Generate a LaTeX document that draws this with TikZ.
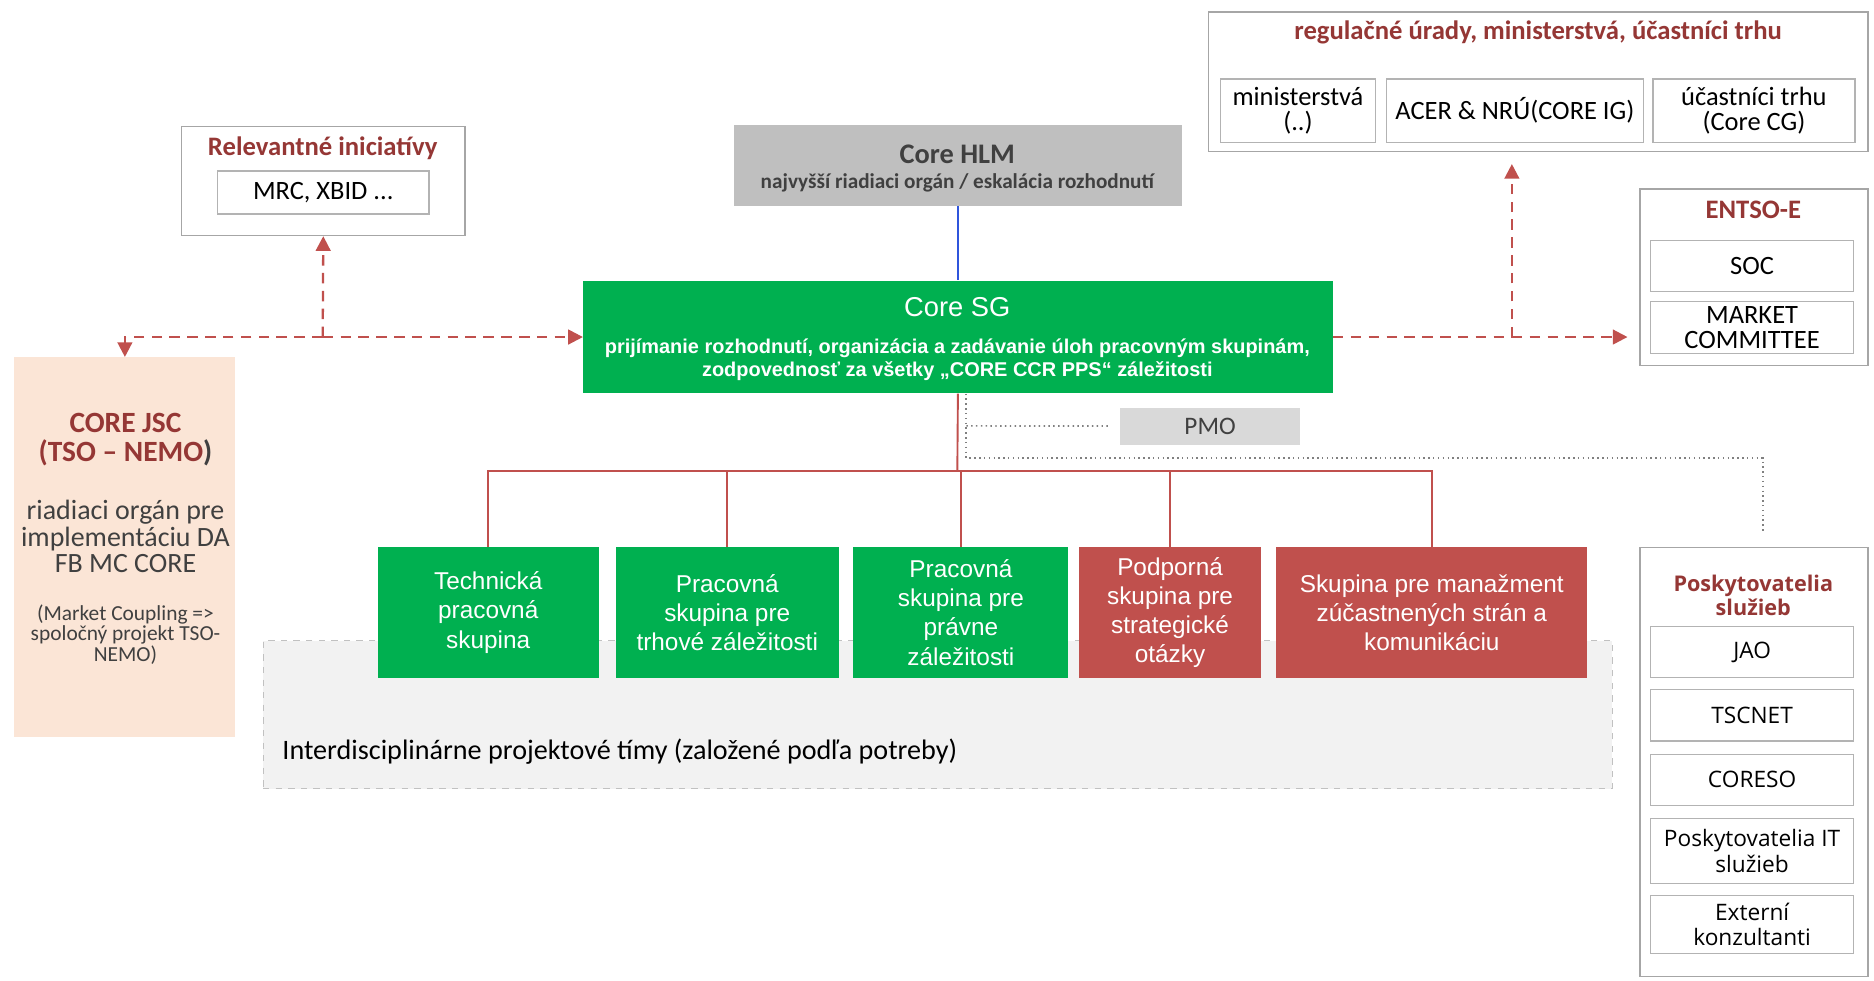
\documentclass[tikz,border=0pt]{standalone}
\usepackage{fontspec}
\setmainfont{Carlito}
\newfontfamily\arialf{Liberation Sans}
\newfontfamily\osans{Open Sans}
\usetikzlibrary{arrows.meta,calc}
\definecolor{titred}{RGB}{149,55,53}
\definecolor{arrred}{RGB}{192,80,77}
\definecolor{grn}{RGB}{0,176,80}
\definecolor{boxred}{RGB}{192,80,77}
\definecolor{jscfill}{RGB}{251,229,214}
\definecolor{hlmfill}{RGB}{191,191,191}
\definecolor{pmofill}{RGB}{217,217,217}
\definecolor{idfill}{RGB}{242,242,242}
\definecolor{bordgray}{RGB}{166,166,166}
\definecolor{txtgray}{RGB}{64,64,64}
\definecolor{blueline}{RGB}{47,85,220}
\newcommand\fs[2]{\fontsize{#1}{#2}\selectfont}
\newcommand\mybox[7]{\node[#2, minimum width={(#5-#3)*0.56905pt}, minimum height={(#6-#4)*0.56905pt}, inner sep=0pt] (#1) at ({(#3+#5)/2},{(#4+#6)/2}) {#7};}
\tikzset{
  outer/.style={draw=bordgray, line width=0.7pt, fill=white},
  inner/.style={draw=bordgray!85, line width=0.6pt, fill=white, align=center, font=\fs{12.6}{12}},
  pinner/.style={inner, font=\osans\fs{10.8}{12}},
  title/.style={text=titred, font=\bfseries\fs{12.7}{12}, align=center},
  wg/.style={text=white, align=center, font=\arialf\fs{11.6}{13.9}},
  dashln/.style={arrred, line width=1.1pt, dash pattern=on 5pt off 3.5pt},
  dasharr/.style={dashln, -{Triangle[length=7pt,width=7pt]}},
  tree/.style={arrred, line width=0.9pt},
  dots/.style={gray, line width=0.8pt, dash pattern=on 0.7pt off 1.6pt},
}
\begin{document}
\begin{tikzpicture}[x=0.02cm, y=-0.02cm]
\useasboundingbox (0,0) rectangle (1568,820);

% interdisciplinary teams
\mybox{idbox}{draw=bordgray!70, dashed, line width=0.5pt, fill=idfill}{220}{536}{1349}{660}{}
\node[anchor=west, inner sep=0pt, font=\fs{13.4}{15}] (idtxt) at (236,629) {Interdisciplinárne projektové tímy (založené podľa potreby)};

% Relevantne iniciativy
\mybox{rel}{outer}{152}{106}{389}{197}{}
\node[title] (reltitle) at (270,124) {Relevantné iniciatívy};
\mybox{mrc}{inner}{182}{143}{359}{179}{MRC, XBID ...}

% Core HLM
\mybox{hlm}{fill=hlmfill}{614}{105}{989}{172}{}
\node[font=\bfseries\fs{13.5}{15}, text=txtgray] (hlmtitle) at (801,129) {Core HLM};
\node[font=\bfseries\fs{10.1}{11}, text=txtgray] (hlmsub) at (801,153) {najvyšší riadiaci orgán / eskalácia rozhodnutí};

% Core SG
\mybox{sg}{fill=grn}{488}{235}{1115}{329}{}
\node[text=white, font=\arialf\fs{13}{15}] (sgtitle) at (801,257) {Core SG};
\node[text=white, font=\arialf\bfseries\fs{9.5}{11.4}, align=center] (sgtext) at (801,301) {prijímanie rozhodnutí, organizácia a zadávanie úloh pracovným skupinám,\\zodpovednosť za všetky „CORE CCR PPS“ záležitosti};

% regulacne urady
\mybox{reg}{outer}{1011}{10}{1563}{127}{}
\node[title] (regtitle) at (1287,27) {regulačné úrady, ministerstvá, účastníci trhu};
\mybox{mini}{inner}{1021}{66}{1151}{119}{ministerstvá\\(..)}
\mybox{acer}{inner}{1160}{66}{1375}{119}{ACER \& NRÚ(CORE IG)}
\mybox{ucast}{inner}{1383}{66}{1552}{119}{účastníci trhu\\(Core CG)}

% ENTSO-E
\mybox{entso}{outer}{1372}{158}{1563}{306}{}
\node[title] (entsotitle) at (1467,176) {ENTSO-E};
\mybox{soc}{inner}{1381}{201}{1551}{244}{SOC}
\mybox{mc}{inner}{1381}{252}{1551}{296}{MARKET\\COMMITTEE}

% CORE JSC
\mybox{jsc}{fill=jscfill}{12}{299}{197}{617}{}
\node[title, font=\bfseries\fs{14}{13.7}] (jsctitle) at (105,368) {CORE JSC\\(TSO – NEMO{\color{txtgray})}};
\node[text=txtgray, align=center, font=\fs{13.3}{12.6}] (jscbody) at (105,449) {riadiaci orgán pre\\implementáciu DA\\FB MC CORE};
\node[text=txtgray, align=center, font=\fs{10.2}{9.7}] (jscsmall) at (105,531) {(Market Coupling =>\\spoločný projekt TSO-\\NEMO)};

% PMO
\mybox{pmo}{fill=pmofill, text=txtgray, font=\fs{12}{13}}{937}{341}{1088}{372}{PMO}

% working groups
\mybox{wg1}{fill=grn, wg}{316}{458}{501}{567}{Technická\\pracovná\\skupina}
\mybox{wg2}{fill=grn, wg}{515}{458}{702}{567}{Pracovná\\skupina pre\\trhové záležitosti}
\mybox{wg3}{fill=grn, wg}{714}{458}{894}{567}{Pracovná\\skupina pre\\právne\\záležitosti}
\mybox{wg4}{fill=boxred, wg}{903}{458}{1055}{567}{Podporná\\skupina pre\\strategické\\otázky}
\mybox{wg5}{fill=boxred, wg}{1068}{458}{1328}{567}{Skupina pre manažment\\zúčastnených strán a\\komunikáciu}

% Poskytovatelia
\mybox{posk}{outer}{1372}{458}{1563}{817}{}
\node[title, font=\osans\bfseries\fs{10.3}{11.5}] (posktitle) at (1467,498) {Poskytovatelia\\služieb};
\mybox{jao}{pinner}{1381}{524}{1551}{567}{JAO}
\mybox{tscnet}{pinner}{1381}{577}{1551}{620}{TSCNET}
\mybox{coreso}{pinner}{1381}{631}{1551}{674}{CORESO}
\mybox{itsl}{pinner}{1381}{685}{1551}{739}{Poskytovatelia IT\\služieb}
\mybox{ext}{pinner}{1381}{749}{1551}{798}{Externí\\konzultanti}

% connectors
\draw[blueline, line width=0.8pt] (hlm.south) -- (sg.north);

\coordinate (tj) at (801,394);
\draw[tree] (sg.south) -- (tj);
\foreach \w in {wg1,wg2,wg3,wg4,wg5} \draw[tree] (tj) -| (\w.north);

\coordinate (jl) at (270,282);
\draw[dasharr] (jl) -- (sg.west);
\draw[dasharr] (jl) -- (rel.south);
\draw[dasharr] (jl) -| (jsc.north);

\coordinate (jr) at (1265,282);
\draw[dashln] (sg.east) -- (jr);
\draw[dasharr, shorten >=5.5pt] (jr) -- (jr -| entso.west);
\draw[dasharr, shorten >=5.5pt] (jr) -- (jr |- reg.south);

\coordinate (d0) at ($(sg.south)+(7,0)$);
\coordinate (d1) at ($(sg.south)+(7,54)$);
\coordinate (dp) at ($(sg.south)+(7,27)$);
\coordinate (d2) at ($(posk.north)+(7.5,-13)$);
\draw[dots] (d0) -- (d1) -| (d2);
\draw[dots, shorten >=4pt] (dp) -- (pmo.west);
\end{tikzpicture}
\end{document}
